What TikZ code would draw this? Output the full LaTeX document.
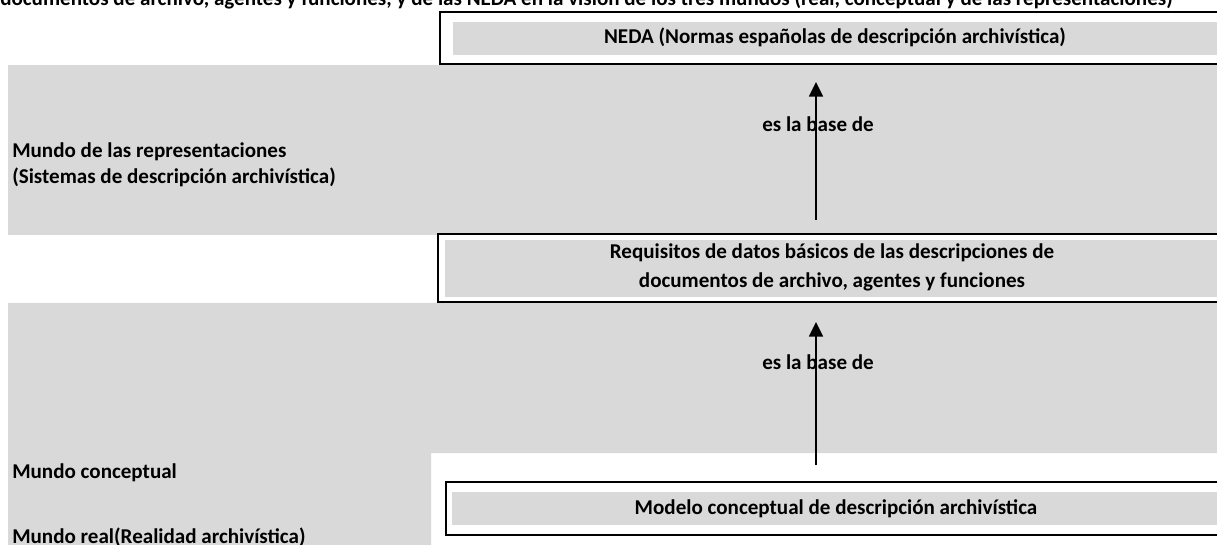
\documentclass[tikz,border=0pt]{standalone}
\usepackage{fontspec}
\setmainfont{Carlito}
\usetikzlibrary{arrows.meta}
\definecolor{bandgray}{HTML}{D9D9D9}
\begin{document}
\begin{tikzpicture}[x=0.75pt,y=-0.75pt,
  font=\bfseries\fontsize{15.8}{19}\selectfont,
  lbl/.style={inner sep=0pt, anchor=base west},
  ctr/.style={inner sep=0pt, anchor=base},
  frame/.style={draw=black, line width=1.5pt},
  band/.style={fill=bandgray},
  arr/.style={line width=1.2pt, -{Triangle[length=11pt,width=10.5pt]}}]
\useasboundingbox (0,0) rectangle (1217,545);
% world bands
\fill[band] (8,65) rectangle (1217,235);
\fill[band] (8,303) -- (1217,303) -- (1217,453) -- (431,453) -- (431,545) -- (8,545) -- cycle;
% title (cropped)
\node[lbl] (title) at (0,6) {documentos de archivo, agentes y funciones, y de las NEDA en la visión de los tres mundos (real, conceptual y de las representaciones)};
% boxes
\draw[frame] (440,12) rectangle (1240,64);
\fill[band] (453,22) rectangle (1240,55);
\node[ctr] (neda) at (835,44) {NEDA (Normas españolas de descripción archivística)};
\draw[frame] (438,234) rectangle (1240,302);
\fill[band] (445,240) rectangle (1240,297);
\node[ctr] (req1) at (832,259) {Requisitos de datos básicos de las descripciones de};
\node[ctr] (req2) at (832,288) {documentos de archivo, agentes y funciones};
\draw[frame] (446,482) rectangle (1240,535);
\fill[band] (452,492) rectangle (1240,525);
\node[ctr] (mod) at (836,514) {Modelo conceptual de descripción archivística};
% world labels
\node[lbl] (rep1) at (12,158) {Mundo de las representaciones};
\node[lbl] (rep2) at (12,184) {(Sistemas de descripción archivística)};
\node[lbl] (conc) at (12,478) {Mundo conceptual};
\node[lbl] (real) at (12,543) {Mundo real(Realidad archivística)};
% relations
\node[ctr] (base1) at (818,132) {es la base de};
\node[ctr] (base2) at (818,369) {es la base de};
\coordinate (a1s) at (816,220);
\coordinate (a1e) at (816,82);
\coordinate (a2s) at (816,465);
\coordinate (a2e) at (816,322);
\draw[arr] (a1s) -- (a1e);
\draw[arr] (a2s) -- (a2e);
\end{tikzpicture}
\end{document}
